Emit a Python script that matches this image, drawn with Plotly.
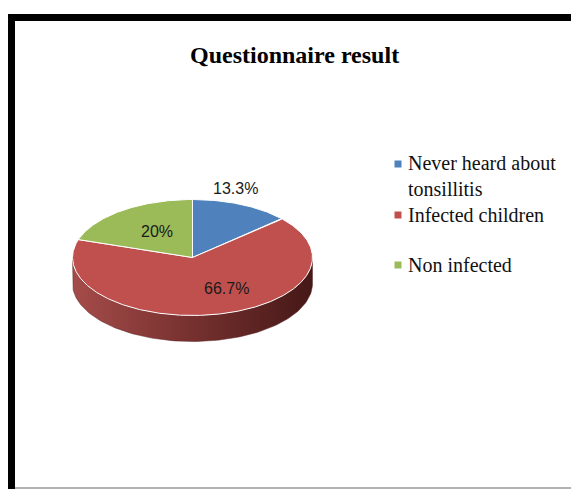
import numpy as np
import plotly.graph_objects as go

# ---- data ----
categories = ["Never heard about tonsillitis", "Infected children", "Non infected"]
legend_labels = ["Never heard about<br>tonsillitis", "Infected children", "Non infected"]
values = [13.3, 66.7, 20.0]
label_texts = ["13.3%", "66.7%", "20%"]
colors = ["#4f81bd", "#c0504d", "#9bbb59"]

W, H = 579, 489
OFF = 8  # page body margin
# ellipse geometry (layout, in pixels)
cx, cy, a, b, depth = 192.5, 257.5, 120, 58, 26
# label placement (layout)
label_r = [1.3, 0.55, 0.55]
label_xshift = [-20, 20, 3]


def pt(phi_deg, dy=0.0):
    p = np.radians(phi_deg)
    return cx + a * np.sin(p), cy - b * np.cos(p) + dy


fig = go.Figure()

# side wall (front half, visible part of the cylinder)
phis = np.linspace(90, 270, 120)
xs_top, ys_top = pt(phis)
xs_bot, ys_bot = pt(phis[::-1], depth)
fig.add_trace(go.Scatter(
    x=np.concatenate([xs_top, xs_bot, xs_top[:1]]),
    y=np.concatenate([ys_top, ys_bot, ys_top[:1]]),
    mode="lines", fill="toself", line=dict(color="#5a2322", width=0.5),
    fillgradient=dict(type="horizontal",
                      colorscale=[[0, "#a54c4a"], [0.45, "#7a3331"], [1, "#451817"]]),
    hoverinfo="skip", showlegend=False))

# top face slices
total = sum(values)
start = 0.0
mids = []
for v, c in zip(values, colors):
    span = v / total * 360.0
    ph = np.linspace(start, start + span, max(int(span), 2) * 2)
    ex, ey = pt(ph)
    fig.add_trace(go.Scatter(
        x=np.concatenate([[cx], ex, [cx]]),
        y=np.concatenate([[cy], ey, [cy]]),
        mode="lines", fill="toself", fillcolor=c,
        line=dict(color="white", width=1),
        hoverinfo="skip", showlegend=False))
    mids.append(start + span / 2)
    start += span

# data labels
for t, m, r, xs in zip(label_texts, mids, label_r, label_xshift):
    p = np.radians(m)
    lx = cx + a * r * np.sin(p)
    ly = cy - b * r * np.cos(p)
    fig.add_annotation(x=lx, y=ly, text=t, showarrow=False, xshift=xs,
                       font=dict(family="Liberation Sans", size=16, color="#1a1a1a"),
                       xanchor="center", yanchor="middle")

# legend (markers + text)
leg_marker_y = [164, 215, 265]
leg_text_y = [176, 215, 265]
fig.add_trace(go.Scatter(
    x=[398] * 3, y=leg_marker_y, mode="markers",
    marker=dict(symbol="square", size=7, color=colors, line=dict(width=0)),
    hoverinfo="skip", showlegend=False))
for lab, ty in zip(legend_labels, leg_text_y):
    fig.add_annotation(x=406, y=ty, text=lab, showarrow=False, align="left",
                       xanchor="left", yanchor="middle",
                       font=dict(family="Liberation Serif", size=20, color="#111111"))

# title
fig.add_annotation(x=294, y=55, text="<b>Questionnaire result</b>", showarrow=False,
                   xanchor="center", yanchor="middle",
                   font=dict(family="Liberation Serif", size=24, color="black"))

# frame
shapes = [
    dict(type="rect", x0=8, x1=15, y0=14, y1=H, fillcolor="black", line=dict(width=0)),
    dict(type="rect", x0=8, x1=W, y0=14, y1=21, fillcolor="black", line=dict(width=0)),
    dict(type="rect", x0=576, x1=W, y0=14, y1=H, fillcolor="black", line=dict(width=0)),
    dict(type="line", x0=575, x1=575, y0=21, y1=488, line=dict(color="#999999", width=1)),
    dict(type="line", x0=15, x1=575, y0=488, y1=488, line=dict(color="#999999", width=1.5)),
]

fig.update_layout(
    width=W - OFF, height=H - OFF, margin=dict(l=0, r=0, t=0, b=0),
    paper_bgcolor="white", plot_bgcolor="white",
    xaxis=dict(range=[OFF, W], visible=False, fixedrange=True),
    yaxis=dict(range=[H, OFF], visible=False, fixedrange=True),
    shapes=shapes, showlegend=False,
)

fig.write_html("out.html")
